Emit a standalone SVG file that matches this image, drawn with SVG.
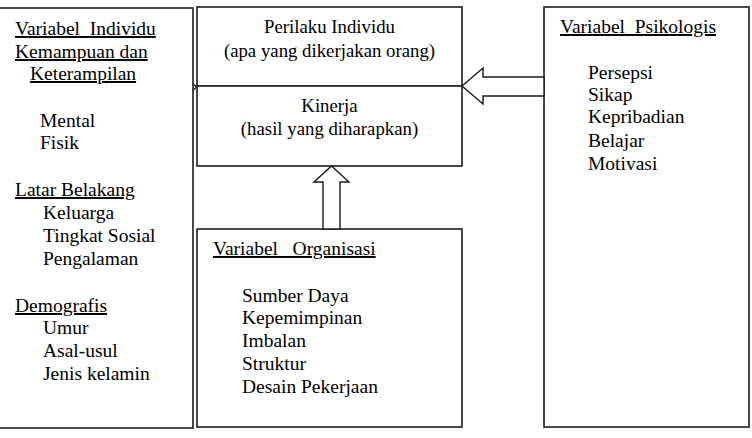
<svg xmlns="http://www.w3.org/2000/svg" width="752" height="438" viewBox="0 0 752 438">
<style>
.box{fill:#fff;stroke:#2a2a2a;stroke-width:1.7}
text{font-family:'Liberation Serif','Times New Roman',serif;font-size:19.5px;fill:#000}
.u{text-decoration:underline}
.m{text-anchor:middle;font-size:18.8px}
</style>
<rect width="752" height="438" fill="#fff"/>
<g id="individu">
<rect class="box" x="-2" y="8" width="195" height="420"/>
<text class="u" x="15" y="35" xml:space="preserve">Variabel  Individu</text>
<text class="u" x="15" y="58">Kemampuan dan</text>
<text class="u" x="30" y="80">Keterampilan</text>
<text x="40" y="127">Mental</text>
<text x="40" y="149">Fisik</text>
<text class="u" x="15" y="196">Latar Belakang</text>
<text x="43" y="219">Keluarga</text>
<text x="43" y="242">Tingkat Sosial</text>
<text x="43" y="265">Pengalaman</text>
<text class="u" x="15" y="312">Demografis</text>
<text x="43" y="334">Umur</text>
<text x="43" y="357">Asal-usul</text>
<text x="43" y="380">Jenis kelamin</text>
</g>
<g id="perilaku">
<rect class="box" x="197" y="7" width="265" height="79"/>
<text class="m" x="329.5" y="33">Perilaku Individu</text>
<text class="m" x="329.5" y="57">(apa yang dikerjakan orang)</text>
</g>
<g id="kinerja">
<rect class="box" x="197" y="86" width="265" height="80"/>
<text class="m" x="329.5" y="112">Kinerja</text>
<text class="m" x="329.5" y="135">(hasil yang diharapkan)</text>
</g>
<g id="organisasi">
<rect class="box" x="197" y="229" width="265" height="198"/>
<text class="u" x="213" y="255" xml:space="preserve">Variabel   Organisasi</text>
<text x="242" y="302">Sumber Daya</text>
<text x="242" y="324">Kepemimpinan</text>
<text x="242" y="347">Imbalan</text>
<text x="242" y="370">Struktur</text>
<text x="242" y="393">Desain Pekerjaan</text>
</g>
<g id="psikologis">
<rect class="box" x="544" y="7" width="205" height="420"/>
<text class="u" x="560" y="33" xml:space="preserve">Variabel  Psikologis</text>
<text x="588" y="79">Persepsi</text>
<text x="588" y="101">Sikap</text>
<text x="588" y="123">Kepribadian</text>
<text x="588" y="147">Belajar</text>
<text x="588" y="170">Motivasi</text>
</g>
<g id="connectors" fill="#fff" stroke="#1a1a1a" stroke-width="1.4">
<polygon points="323,229 323,182 314,182 331.5,166 349,182 340,182 340,229"/>
<polygon points="544,77 483,77 483,68 462,86 483,104 483,96 544,96"/>
<polyline points="193,83.5 196.5,87 193,90.5" fill="none" stroke-width="1.2"/>
</g>
</svg>
